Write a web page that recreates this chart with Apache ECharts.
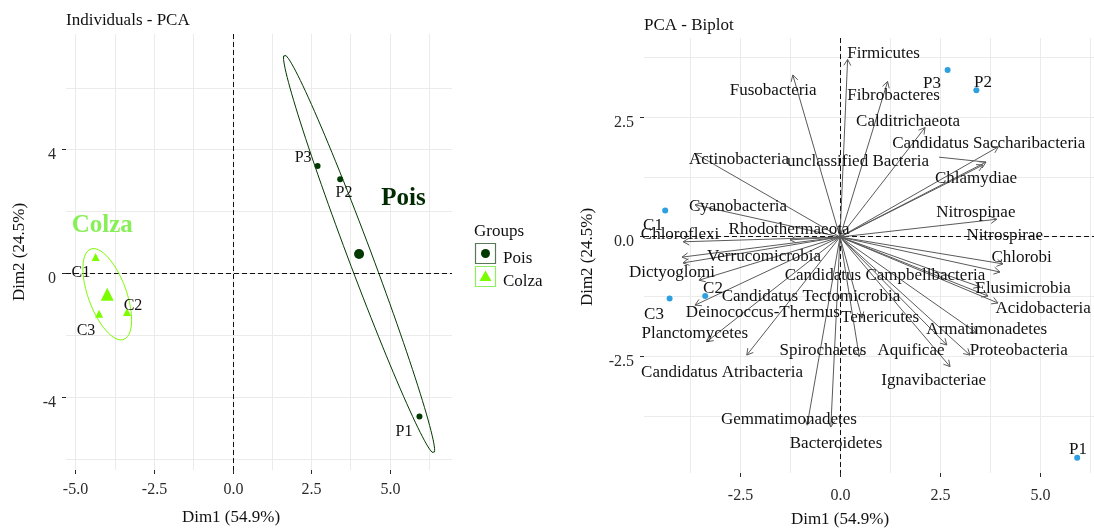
<!DOCTYPE html>
<html>
<head>
<meta charset="utf-8">
<script src="https://cdn.jsdelivr.net/npm/echarts@6/dist/echarts.min.js"></script>
<style>
html,body{margin:0;padding:0;background:#ffffff;}
#chart{width:1094px;height:528px;}
</style>
</head>
<body>
<div id="chart"></div>
<script>
// ================= DATA =================
const groupNames = ['Pois', 'Colza'];

// individuals (PCA coordinates)
const indNames  = ['P1', 'P2', 'P3', 'C1', 'C2', 'C3'];
const indGroup  = ['Pois', 'Pois', 'Pois', 'Colza', 'Colza', 'Colza'];
const indDim1   = [5.93, 3.41, 2.69, -4.37, -3.37, -4.26];
const indDim2   = [-4.60, 3.06, 3.48, 0.55, -1.23, -1.28];

// label anchors of individuals (left panel, data units)
const indLabelDim1 = [5.44, 3.53, 2.23, -4.84, -3.18, -4.675];
const indLabelDim2 = [-5.09, 2.61, 3.74, 0.03, -1.03, -1.84];
// group label anchors (left panel)
const groupLabelDim1 = [5.42, -4.16];
const groupLabelDim2 = [2.42, 1.555];
// label anchors of individuals (biplot)
const bipIndLabelDim1 = [5.95, 3.575, 2.30, -4.675, -3.175, -4.65];
const bipIndLabelDim2 = [-4.42, 3.22, 3.19, 0.23, -1.08, -1.625];

// variables (arrow tips) and their label anchors
const varNames = ['Firmicutes','Fusobacteria','Fibrobacteres','Calditrichaeota','Candidatus Saccharibacteria',
  'Actinobacteria','unclassified Bacteria','Chlamydiae','Cyanobacteria','Nitrospinae','Chloroflexi',
  'Rhodothermaeota','Nitrospirae','Verrucomicrobia','Chlorobi','Dictyoglomi','Candidatus Campbellbacteria',
  'Elusimicrobia','Candidatus Tectomicrobia','Acidobacteria','Deinococcus-Thermus','Tenericutes',
  'Armatimonadetes','Planctomycetes','Spirochaetes','Aquificae','Proteobacteria','Candidatus Atribacteria',
  'Ignavibacteriae','Gemmatimonadetes','Bacteroidetes'];
const varDim1 = [0.19,-1.18,1.19,2.125,3.96,-3.625,3.65,3.575,-3.625,3.92,-3.92,-1.25,4.075,-3.95,4.0,-3.925,3.5,
  3.7,-3.525,3.95,-3.625,0.55,3.42,-3.33,0.48,2.67,3.25,-2.33,2.75,-0.82,-0.23];
const varDim2 = [3.70,3.375,3.24,2.28,1.88,1.74,1.56,1.50,0.67,0.37,-0.10,-0.06,-0.56,-0.42,-0.73,-0.54,-1.04,
  -1.23,-0.90,-1.375,-1.42,-1.69,-2.0,-2.18,-2.49,-2.25,-2.46,-2.46,-2.70,-3.92,-3.96];
const varLabelDim1 = [1.09,-1.67,1.34,1.70,3.72,-2.525,0.45,3.40,-2.55,3.395,-4.0,-1.275,4.12,-1.90,4.54,-4.20,1.125,
  4.58,-0.725,5.08,-1.93,1.0,3.67,-3.63,-0.425,1.775,4.47,-2.95,2.34,-1.275,-0.10];
const varLabelDim2 = [3.83,3.06,2.94,2.40,1.94,1.61,1.58,1.21,0.625,0.50,0.06,0.146,0.04,-0.40,-0.42,-0.75,-0.81,
  -1.08,-1.24,-1.50,-1.58,-1.67,-1.92,-2.02,-2.375,-2.375,-2.375,-2.83,-3.0,-3.80,-4.31];
const varWithLeader = ['unclassified Bacteria'];

// tick values and labels
const leftXTicks = [-5, -2.5, 0, 2.5, 5];
const leftXTickLabels = ['-5.0', '-2.5', '0.0', '2.5', '5.0'];
const leftXMinor = [-3.75, -1.25, 1.25, 3.75, 6.25];
const leftYTicks = [-4, 0, 4];
const leftYTickLabels = ['-4', '0', '4'];
const leftYMinor = [-6, -2, 2, 6];
const rightXTicks = [-2.5, 0, 2.5, 5];
const rightXTickLabels = ['-2.5', '0.0', '2.5', '5.0'];
const rightXMinor = [-3.75, -1.25, 1.25, 3.75, 6.25];
const rightYTicks = [-2.5, 0, 2.5];
const rightYTickLabels = ['-2.5', '0.0', '2.5'];
const rightYMinor = [-3.75, -1.25, 1.25, 3.75];

const titleLeft = 'Individuals - PCA';
const titleRight = 'PCA - Biplot';
const xTitle = 'Dim1 (54.9%)';
const yTitle = 'Dim2 (24.5%)';
const legendTitle = 'Groups';
const ellipseChi2 = 5.991; // qchisq(0.95, 2)

// ================= STYLE =================
const FONT = '"Liberation Serif", "Times New Roman", serif';
const groupColor = { Pois: '#003a00', Colza: '#7CFC00' };
const groupLabelColor = { Pois: '#002a00', Colza: '#88ef58' };
const groupSymbol = { Pois: 'circle', Colza: 'triangle' };
const legendBorder = { Pois: '#587858', Colza: '#8cf060' };
const GRID = '#ebebeb';
const TICK = '#2a2a2a';
const ARROW = '#5a5a5a';
const BIP_POINT = '#2E9FDF';

function mean(a) { return a.reduce((s, v) => s + v, 0) / a.length; }
function snap(v) { return Math.round(v - 0.5) + 0.5; }

function ellipsePoints(xs, ys, chi2, nSeg) {
  const n = xs.length, mx = mean(xs), my = mean(ys);
  let sxx = 0, syy = 0, sxy = 0;
  for (let i = 0; i < n; i++) {
    const dx = xs[i] - mx, dy = ys[i] - my;
    sxx += dx * dx; syy += dy * dy; sxy += dx * dy;
  }
  sxx /= (n - 1); syy /= (n - 1); sxy /= (n - 1);
  const a = Math.sqrt(sxx), b = sxy / a, c = Math.sqrt(Math.max(syy - b * b, 0));
  const r = Math.sqrt(chi2 / n);
  const pts = [];
  for (let k = 0; k <= nSeg; k++) {
    const t = 2 * Math.PI * k / nSeg;
    pts.push([mx + r * a * Math.cos(t), my + r * (b * Math.cos(t) + c * Math.sin(t))]);
  }
  return pts;
}

function textStyle(text, size, color, align, valign, weight) {
  return {
    text: text, font: (weight || 'normal') + ' ' + size + 'px ' + FONT, fill: color,
    textAlign: align, textVerticalAlign: valign, align: align, verticalAlign: valign
  };
}

function frameRenderer(cfg) {
  return function (params, api) {
    const cs = params.coordSys;
    const L = cs.x, T = cs.y, R = cs.x + cs.width, B = cs.y + cs.height;
    const ch = [];
    const ln = (x1, y1, x2, y2, st) => ch.push({ type: 'line', shape: { x1, y1, x2, y2 }, style: st });
    cfg.xMinor.forEach(v => { const x = snap(api.coord([v, 0])[0]); if (x >= L && x <= R) ln(x, T, x, B, { stroke: GRID, lineWidth: 1 }); });
    cfg.yMinor.forEach(v => { const y = snap(api.coord([0, v])[1]); if (y >= T && y <= B) ln(L, y, R, y, { stroke: GRID, lineWidth: 1 }); });
    cfg.xMajor.forEach((v, i) => {
      const x = snap(api.coord([v, 0])[0]);
      ln(x, T, x, B, { stroke: GRID, lineWidth: 1 });
      ln(x, B, x, B + 4, { stroke: TICK, lineWidth: 1 });
      ch.push({ type: 'text', x: x, y: B + cfg.xLabelDy, style: textStyle(cfg.xLabels[i], 16, TICK, 'center', 'middle') });
    });
    cfg.yMajor.forEach((v, i) => {
      const y = snap(api.coord([0, v])[1]);
      ln(L, y, R, y, { stroke: GRID, lineWidth: 1 });
      ln(L - 4, y, L, y, { stroke: TICK, lineWidth: 1 });
      ch.push({ type: 'text', x: L - 10, y: y + 5, style: textStyle(cfg.yLabels[i], 16, TICK, 'right', 'middle') });
    });
    const o = api.coord([0, 0]);
    const ox = snap(o[0]), oy = snap(o[1]);
    ln(ox, T, ox, B, { stroke: '#111', lineWidth: 1, lineDash: [5, 3] });
    ln(L, oy, R, oy, { stroke: '#111', lineWidth: 1, lineDash: [5, 3] });
    return { type: 'group', children: ch };
  };
}

function textSeries(axisIdx, xs, ys, texts, size, colors, weight, z) {
  return {
    type: 'custom', xAxisIndex: axisIdx, yAxisIndex: axisIdx, z: z || 6, silent: true,
    data: xs.map((x, i) => [x, ys[i], i]),
    renderItem: function (params, api) {
      const p = api.coord([api.value(0), api.value(1)]);
      const i = api.value(2);
      const col = Array.isArray(colors) ? colors[i] : colors;
      return { type: 'text', x: p[0], y: p[1], style: textStyle(texts[i], size, col, 'center', 'middle', weight) };
    }
  };
}

// ================= SERIES =================
const series = [];

series.push({
  type: 'custom', xAxisIndex: 0, yAxisIndex: 0, z: 0, silent: true, data: [[0, 0]],
  renderItem: frameRenderer({ xMajor: leftXTicks, xLabels: leftXTickLabels, xMinor: leftXMinor,
    yMajor: leftYTicks, yLabels: leftYTickLabels, yMinor: leftYMinor, xLabelDy: 20 })
});
series.push({
  type: 'custom', xAxisIndex: 1, yAxisIndex: 1, z: 0, silent: true, data: [[0, 0]],
  renderItem: frameRenderer({ xMajor: rightXTicks, xLabels: rightXTickLabels, xMinor: rightXMinor,
    yMajor: rightYTicks, yLabels: rightYTickLabels, yMinor: rightYMinor, xLabelDy: 23 })
});

// left panel: ellipses, points, centroids
groupNames.forEach(g => {
  const idx = indNames.map((_, i) => i).filter(i => indGroup[i] === g);
  const xs = idx.map(i => indDim1[i]), ys = idx.map(i => indDim2[i]);
  series.push({
    type: 'line', xAxisIndex: 0, yAxisIndex: 0, z: 2, silent: true, showSymbol: false, symbol: 'none',
    data: ellipsePoints(xs, ys, ellipseChi2, 120),
    lineStyle: { color: groupColor[g], width: 1, opacity: 1 }
  });
  series.push({
    type: 'scatter', xAxisIndex: 0, yAxisIndex: 0, z: 3, silent: true,
    symbol: groupSymbol[g], symbolSize: g === 'Pois' ? 6 : 8,
    itemStyle: { color: groupColor[g], opacity: 1 },
    data: idx.map(i => [indDim1[i], indDim2[i]])
  });
  series.push({
    type: 'scatter', xAxisIndex: 0, yAxisIndex: 0, z: 3, silent: true,
    symbol: groupSymbol[g], symbolSize: g === 'Pois' ? 10 : 13,
    itemStyle: { color: groupColor[g], opacity: 1 },
    data: [[mean(xs), mean(ys)]]
  });
});
series.push(textSeries(0, indLabelDim1, indLabelDim2, indNames, 16, '#111'));
series.push(textSeries(0, groupLabelDim1, groupLabelDim2, groupNames, 25,
  groupNames.map(g => groupLabelColor[g]), 'bold'));

// right panel: arrows
series.push({
  type: 'custom', xAxisIndex: 1, yAxisIndex: 1, z: 3, silent: true,
  data: varDim1.map((x, i) => [x, varDim2[i], i]),
  renderItem: function (params, api) {
    const o = api.coord([0, 0]);
    const p = api.coord([api.value(0), api.value(1)]);
    const ang = Math.atan2(p[1] - o[1], p[0] - o[0]);
    const hl = 7, ha = Math.PI / 6;
    const h1 = [p[0] - hl * Math.cos(ang - ha), p[1] - hl * Math.sin(ang - ha)];
    const h2 = [p[0] - hl * Math.cos(ang + ha), p[1] - hl * Math.sin(ang + ha)];
    return {
      type: 'group', children: [
        { type: 'line', shape: { x1: o[0], y1: o[1], x2: p[0], y2: p[1] }, style: { stroke: ARROW, lineWidth: 1 } },
        { type: 'polyline', shape: { points: [h1, p, h2] }, style: { stroke: ARROW, lineWidth: 1, fill: null } }
      ]
    };
  }
});

// leader segments (label -> arrow tip)
const measureCtx = document.createElement('canvas').getContext('2d');
measureCtx.font = '17px ' + FONT;
series.push({
  type: 'custom', xAxisIndex: 1, yAxisIndex: 1, z: 3, silent: true,
  data: varNames.map((n, i) => [varLabelDim1[i], varLabelDim2[i], i]).filter(d => varWithLeader.indexOf(varNames[d[2]]) >= 0),
  renderItem: function (params, api) {
    const i = api.value(2);
    const c = api.coord([api.value(0), api.value(1)]);
    const tip = api.coord([varDim1[i], varDim2[i]]);
    const w = measureCtx.measureText(varNames[i]).width;
    return { type: 'line', shape: { x1: c[0] + w / 2 + 10, y1: c[1] - 4, x2: tip[0], y2: tip[1] },
      style: { stroke: ARROW, lineWidth: 1 } };
  }
});

series.push({
  type: 'scatter', xAxisIndex: 1, yAxisIndex: 1, z: 4, silent: true,
  symbol: 'circle', symbolSize: 6, itemStyle: { color: BIP_POINT, opacity: 1 },
  data: indDim1.map((x, i) => [x, indDim2[i]])
});
series.push(textSeries(1, varLabelDim1, varLabelDim2, varNames, 17, '#111'));
series.push(textSeries(1, bipIndLabelDim1, bipIndLabelDim2, indNames, 17, '#111'));

// ================= GRAPHIC (titles, axis titles, legend) =================
const graphic = [];
function gText(x, y, text, size, color, align, valign, weight, rot) {
  graphic.push({ type: 'text', x: x, y: y, rotation: rot || 0, silent: true,
    style: textStyle(text, size, color, align, valign, weight) });
}
gText(66, 21, titleLeft, 17, '#111', 'left', 'middle');
gText(644, 26, titleRight, 17, '#111', 'left', 'middle');
gText(231, 518, xTitle, 17, '#111', 'center', 'middle');
gText(840, 520, xTitle, 17, '#111', 'center', 'middle');
gText(20, 252, yTitle, 17, '#111', 'center', 'middle', 'normal', Math.PI / 2);
gText(588, 257, yTitle, 17, '#111', 'center', 'middle', 'normal', Math.PI / 2);

// legend
gText(474, 232, legendTitle, 17, '#111', 'left', 'middle');
groupNames.forEach((g, k) => {
  const top = 243 + k * 23;
  graphic.push({ type: 'rect', silent: true, shape: { x: 475.5, y: top + 0.5, width: 20, height: 20 },
    style: { fill: '#fff', stroke: legendBorder[g], lineWidth: 1.2 } });
  if (groupSymbol[g] === 'circle') {
    graphic.push({ type: 'circle', silent: true, shape: { cx: 485.5, cy: top + 10.5, r: 4.5 }, style: { fill: groupColor[g] } });
  } else {
    graphic.push({ type: 'polygon', silent: true,
      shape: { points: [[485.5, top + 4.5], [491.5, top + 15], [479.5, top + 15]] }, style: { fill: groupColor[g] } });
  }
  gText(503, top + 16, g, 17, '#111', 'left', 'middle');
});

// ================= CHART =================
const chart = echarts.init(document.getElementById('chart'), null, { renderer: 'canvas' });
chart.setOption({
  animation: false,
  backgroundColor: '#ffffff',
  grid: [
    { left: 66, top: 34, width: 386, height: 436 },
    { left: 644, top: 38, width: 450, height: 435 }
  ],
  xAxis: [
    { type: 'value', gridIndex: 0, min: -5.312, max: 6.966, show: false },
    { type: 'value', gridIndex: 1, min: -4.9, max: 6.35, show: false }
  ],
  yAxis: [
    { type: 'value', gridIndex: 0, min: -6.323, max: 7.742, show: false },
    { type: 'value', gridIndex: 1, min: -4.917, max: 4.146, show: false }
  ],
  graphic: graphic,
  series: series
});
</script>
</body>
</html>
